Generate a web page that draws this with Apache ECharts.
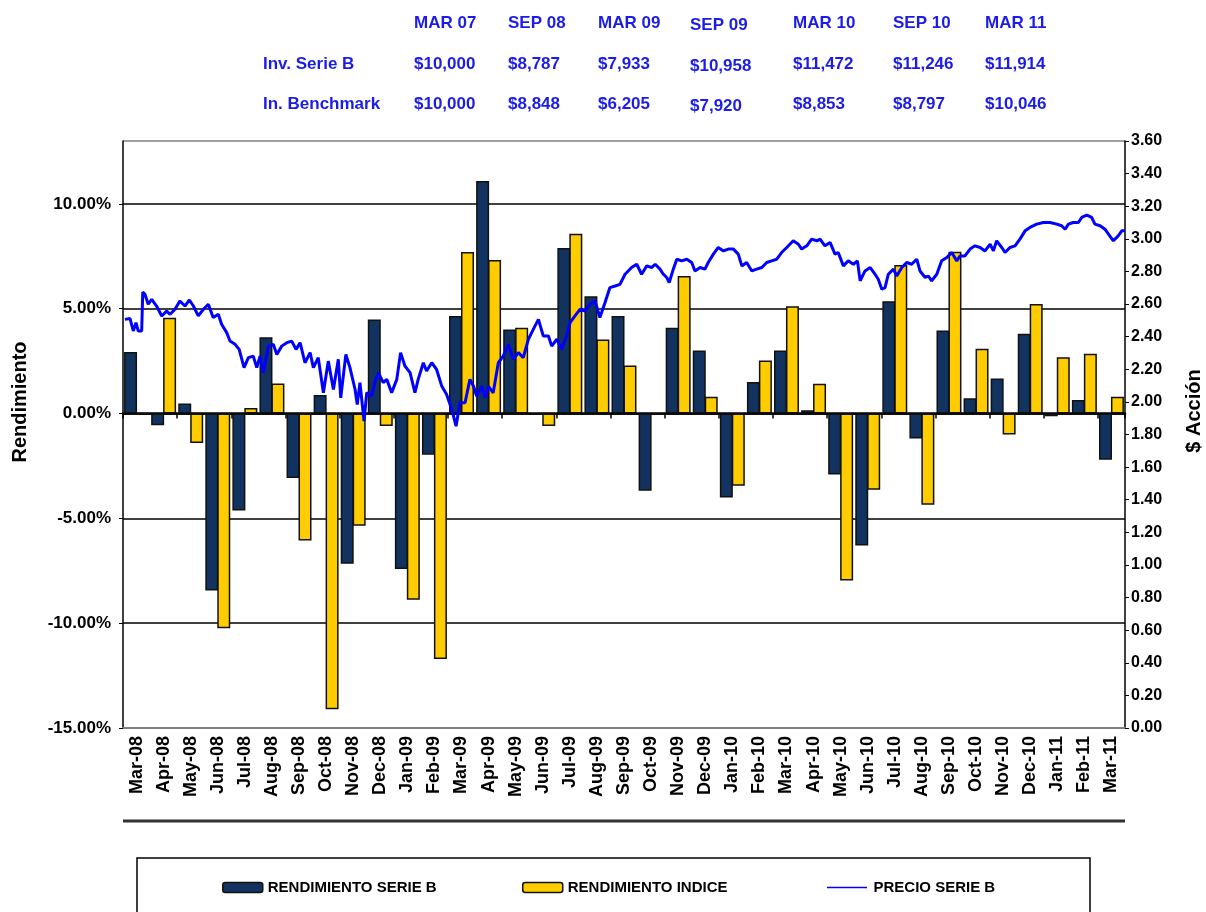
<!DOCTYPE html>
<html>
<head>
<meta charset="utf-8">
<script src="https://cdn.jsdelivr.net/npm/echarts@6/dist/echarts.min.js"></script>
<style>
  html, body { margin: 0; padding: 0; background: #fff; }
  #chart { width: 1206px; height: 912px; }
</style>
</head>
<body>
<div id="chart"></div>
<script>
// ---- datos ----
const meses = ["Mar-08","Apr-08","May-08","Jun-08","Jul-08","Aug-08","Sep-08","Oct-08","Nov-08","Dec-08",
  "Jan-09","Feb-09","Mar-09","Apr-09","May-09","Jun-09","Jul-09","Aug-09","Sep-09","Oct-09","Nov-09","Dec-09",
  "Jan-10","Feb-10","Mar-10","Apr-10","May-10","Jun-10","Jul-10","Aug-10","Sep-10","Oct-10","Nov-10","Dec-10",
  "Jan-11","Feb-11","Mar-11"];

// rendimiento mensual en %
const rendSerieB = [2.93, -0.56, 0.48, -8.44, -4.63, 3.64, -3.07, 0.89, -7.16, 4.49,
  -7.42, -1.96, 4.65, 11.09, 4.01, -0.05, 7.9, 5.6, 4.65, -3.68, 4.09, 3.01,
  -4.01, 1.51, 3.01, 0.16, -2.91, -6.3, 5.36, -1.19, 3.96, 0.73, 1.67, 3.81,
  -0.13, 0.64, -2.2];
const rendIndice = [0, 4.57, -1.4, -10.24, 0.27, 1.43, -6.06, -14.1, -5.35, -0.6,
  -8.88, -11.71, 7.7, 7.32, 4.09, -0.6, 8.58, 3.53, 2.29, -0.05, 6.56, 0.8,
  -3.45, 2.53, 5.12, 1.42, -7.96, -3.63, 7.08, -4.35, 7.72, 3.09, -1.0, 5.22,
  2.69, 2.85, 0.8];

// precio serie B: posicion en meses desde inicio de Mar-08, y precio
const precioMes = [0.07,0.26,0.38,0.48,0.56,0.69,0.73,0.81,0.93,1.06,1.24,1.43,1.61,1.74,1.92,2.10,2.29,2.45,2.60,2.78,
  2.97,3.15,3.33,3.52,3.64,3.83,3.95,4.14,4.29,4.47,4.63,4.81,4.94,5.06,5.18,5.37,5.55,5.68,5.86,6.05,
  6.23,6.39,6.54,6.72,6.91,7.03,7.21,7.40,7.58,7.77,7.95,8.04,8.23,8.38,8.57,8.65,8.75,8.90,9.00,9.18,
  9.31,9.43,9.61,9.74,9.92,10.11,10.25,10.41,10.60,10.78,10.90,11.09,11.21,11.40,11.58,11.77,11.95,12.14,12.30,12.44,
  12.63,12.81,12.94,13.06,13.25,13.37,13.49,13.67,13.86,14.04,14.23,14.41,14.60,14.78,14.97,15.15,15.34,15.52,15.71,15.83,
  16.02,16.20,16.38,16.51,16.69,16.88,17.06,17.25,17.43,17.61,17.80,17.98,18.17,18.35,18.54,18.78,18.97,19.15,19.34,19.52,
  19.65,19.83,19.95,20.08,20.17,20.32,20.45,20.63,20.82,21.00,21.12,21.31,21.49,21.61,21.80,21.98,22.17,22.35,22.54,22.72,
  22.85,23.03,23.22,23.40,23.59,23.77,23.95,24.14,24.32,24.51,24.75,24.94,25.06,25.25,25.43,25.62,25.74,25.92,26.11,26.29,
  26.41,26.60,26.78,26.97,27.12,27.22,27.40,27.59,27.77,27.89,28.02,28.14,28.26,28.45,28.57,28.76,28.94,29.12,29.31,29.43,
  29.62,29.74,29.86,30.05,30.23,30.42,30.60,30.79,30.91,31.09,31.28,31.46,31.65,31.83,32.02,32.14,32.26,32.45,32.57,32.75,
  32.94,33.12,33.31,33.49,33.74,33.98,34.23,34.48,34.66,34.79,34.91,35.09,35.28,35.40,35.59,35.77,35.89,36.08,36.26,36.39,
  36.57,36.75,36.88,37.00];
const precioValor = [2.506,2.511,2.435,2.486,2.435,2.435,2.674,2.660,2.599,2.629,2.588,2.527,2.557,2.537,2.568,2.619,2.588,2.625,2.588,2.527,
  2.568,2.599,2.517,2.537,2.476,2.425,2.373,2.353,2.322,2.210,2.271,2.281,2.210,2.281,2.179,2.342,2.353,2.291,2.342,2.363,
  2.373,2.322,2.363,2.240,2.302,2.210,2.271,2.056,2.250,2.076,2.261,2.025,2.291,2.210,2.076,1.984,2.118,1.882,2.056,2.035,
  2.127,2.179,2.118,2.138,2.056,2.138,2.302,2.220,2.179,2.056,2.138,2.240,2.189,2.240,2.199,2.097,2.046,1.954,1.851,1.995,
  1.995,2.138,2.097,2.035,2.097,2.025,2.097,2.056,2.240,2.281,2.353,2.261,2.302,2.271,2.384,2.445,2.506,2.404,2.404,2.342,
  2.384,2.322,2.404,2.486,2.527,2.568,2.557,2.599,2.619,2.517,2.609,2.701,2.711,2.721,2.783,2.824,2.844,2.783,2.834,2.824,
  2.844,2.814,2.783,2.763,2.732,2.814,2.875,2.865,2.875,2.855,2.803,2.824,2.814,2.855,2.906,2.947,2.926,2.937,2.937,2.906,
  2.834,2.855,2.803,2.814,2.824,2.855,2.865,2.875,2.916,2.947,2.988,2.967,2.937,2.957,2.998,2.988,2.998,2.957,2.978,2.906,
  2.916,2.834,2.865,2.844,2.865,2.742,2.803,2.824,2.783,2.752,2.691,2.701,2.783,2.814,2.772,2.824,2.855,2.844,2.875,2.803,
  2.763,2.772,2.742,2.783,2.865,2.885,2.916,2.865,2.895,2.895,2.937,2.957,2.947,2.926,2.967,2.926,2.988,2.947,2.916,2.947,
  2.957,2.998,3.049,3.070,3.090,3.100,3.100,3.090,3.080,3.059,3.090,3.100,3.100,3.131,3.145,3.131,3.090,3.080,3.059,3.029,
  2.988,3.018,3.049,3.049];

// tabla superior
const tablaFechas = ["MAR 07", "SEP 08", "MAR 09", "SEP 09", "MAR 10", "SEP 10", "MAR 11"];
const tablaSerieB = ["$10,000", "$8,787", "$7,933", "$10,958", "$11,472", "$11,246", "$11,914"];
const tablaBenchmark = ["$10,000", "$8,848", "$6,205", "$7,920", "$8,853", "$8,797", "$10,046"];
const tablaFilas = ["Inv. Serie B", "In. Benchmark"];

const FONT = "'Liberation Sans', Arial, sans-serif";
const AZUL_TXT = "#1c1ce8";
const AZUL_BAR = "#12335f";
const AMARILLO = "#ffcc00";

// ---- tabla como texto ----
function tablaGraphic() {
  const colX = [414, 508, 598, 690, 793, 893, 985];
  const filaY = [23, 64, 104];
  const out = [];
  const txt = (text, x, y) => ({
    type: "text", x, y,
    style: { text, fill: AZUL_TXT, font: `bold 17px ${FONT}`, verticalAlign: "middle" },
  });
  tablaFechas.forEach((t, i) => out.push(txt(t, colX[i], filaY[0] + (i === 3 ? 2 : 0))));
  out.push(txt(tablaFilas[0], 263, filaY[1]));
  out.push(txt(tablaFilas[1], 263, filaY[2]));
  tablaSerieB.forEach((t, i) => out.push(txt(t, colX[i], filaY[1] + (i === 3 ? 2 : 0))));
  tablaBenchmark.forEach((t, i) => out.push(txt(t, colX[i], filaY[2] + (i === 3 ? 2 : 0))));
  return out;
}

const chart = echarts.init(document.getElementById("chart"), null, { renderer: "canvas" });

const barStyle = (color) => ({ color, borderColor: "#111", borderWidth: 1.5 });
const legendText = { fontFamily: FONT, fontWeight: "bold", fontSize: 15, color: "#000" };
// icono de linea fina para la leyenda del precio
const LINE_ICON = "path://M0,0L0,0M0,4.3L40,4.3L40,5.7L0,5.7ZM40,10L40,10";

chart.setOption({
  animation: false,
  backgroundColor: "#fff",
  textStyle: { fontFamily: FONT },
  grid: { left: 123, right: 81, top: 141, bottom: 184, containLabel: false },
  legend: [
    {
      left: 222, top: 880, padding: 0, itemWidth: 40, itemHeight: 10, itemGap: 4, textStyle: legendText,
      data: [{ name: "RENDIMIENTO SERIE B", itemStyle: barStyle(AZUL_BAR) }],
    },
    {
      left: 522, top: 880, padding: 0, itemWidth: 40, itemHeight: 10, itemGap: 4, textStyle: legendText,
      data: [{ name: "RENDIMIENTO INDICE", itemStyle: barStyle(AMARILLO) }],
    },
    {
      left: 827, top: 880, padding: 0, itemWidth: 43, itemHeight: 10, itemGap: 4, textStyle: legendText,
      data: [{ name: "PRECIO SERIE B", icon: LINE_ICON, itemStyle: { color: "#0000ff", borderWidth: 0 } }],
    },
  ],
  xAxis: [
    {
      type: "category", data: meses, position: "bottom",
      axisLine: { onZero: false, lineStyle: { color: "#808080", width: 2 } },
      axisTick: { show: false },
      axisLabel: { rotate: 90, interval: 0, margin: 8, color: "#000", fontWeight: "bold", fontSize: 18, fontFamily: FONT },
      splitLine: { show: false },
    },
    {
      type: "category", data: meses, position: "top",
      axisLine: { onZero: true, onZeroAxisIndex: 0, lineStyle: { color: "#000", width: 2.5 } },
      axisTick: { show: true, inside: true, length: 5, lineStyle: { color: "#000", width: 1.5 } },
      axisLabel: { show: false },
    },
    { type: "value", min: 0, max: 37, show: false },
  ],
  yAxis: [
    {
      type: "value", min: -0.15, max: 0.13, interval: 0.05, position: "left",
      axisLine: { show: true, lineStyle: { color: "#000", width: 1.5 } },
      axisTick: { show: true, length: 4, lineStyle: { color: "#000" } },
      axisLabel: {
        showMaxLabel: false, margin: 12, color: "#000", fontWeight: "bold", fontSize: 17, fontFamily: FONT,
        formatter: v => (v * 100).toFixed(2) + "%",
      },
      splitLine: {
        show: true,
        lineStyle: { color: ["#808080", "#000", "#000", "#000", "#000", "#000", "#808080"], width: 1.5 },
      },
    },
    {
      type: "value", min: 0, max: 3.6, interval: 0.2, position: "right",
      axisLine: { show: true, lineStyle: { color: "#000", width: 1.5 } },
      axisTick: { show: true, length: 4, lineStyle: { color: "#000" } },
      axisLabel: { margin: 6, color: "#000", fontWeight: "bold", fontSize: 16, fontFamily: FONT, formatter: v => v.toFixed(2) },
      splitLine: { show: false },
    },
  ],
  series: [
    {
      name: "RENDIMIENTO SERIE B", type: "bar", xAxisIndex: 0, yAxisIndex: 0,
      data: rendSerieB.map(v => v / 100),
      barWidth: 13, barGap: "-8%",
      itemStyle: barStyle(AZUL_BAR),
    },
    {
      name: "RENDIMIENTO INDICE", type: "bar", xAxisIndex: 0, yAxisIndex: 0,
      data: rendIndice.map(v => v / 100),
      barWidth: 13, barGap: "-8%",
      itemStyle: barStyle(AMARILLO),
    },
    {
      name: "PRECIO SERIE B", type: "line", xAxisIndex: 2, yAxisIndex: 1, z: 5,
      data: precioMes.map((m, i) => [m, precioValor[i]]),
      symbol: "none", smooth: false,
      lineStyle: { color: "#0000ff", width: 3 },
      itemStyle: { color: "#0000ff" },
    },
  ],
  graphic: [
    ...tablaGraphic(),
    {
      type: "text", x: 20, y: 402, rotation: Math.PI / 2,
      style: { text: "Rendimiento", fill: "#000", font: `bold 20px ${FONT}`, align: "center", verticalAlign: "middle" },
    },
    {
      type: "text", x: 1194, y: 411, rotation: Math.PI / 2,
      style: { text: "$ Acción", fill: "#000", font: `bold 20px ${FONT}`, align: "center", verticalAlign: "middle" },
    },
    {
      type: "line", shape: { x1: 123, y1: 821, x2: 1125, y2: 821 },
      style: { stroke: "#333", lineWidth: 3 },
    },
    {
      type: "rect", shape: { x: 137, y: 858, width: 953, height: 70 },
      style: { fill: "none", stroke: "#000", lineWidth: 1.5 }, z: -1,
    },
  ],
});
</script>
</body>
</html>
